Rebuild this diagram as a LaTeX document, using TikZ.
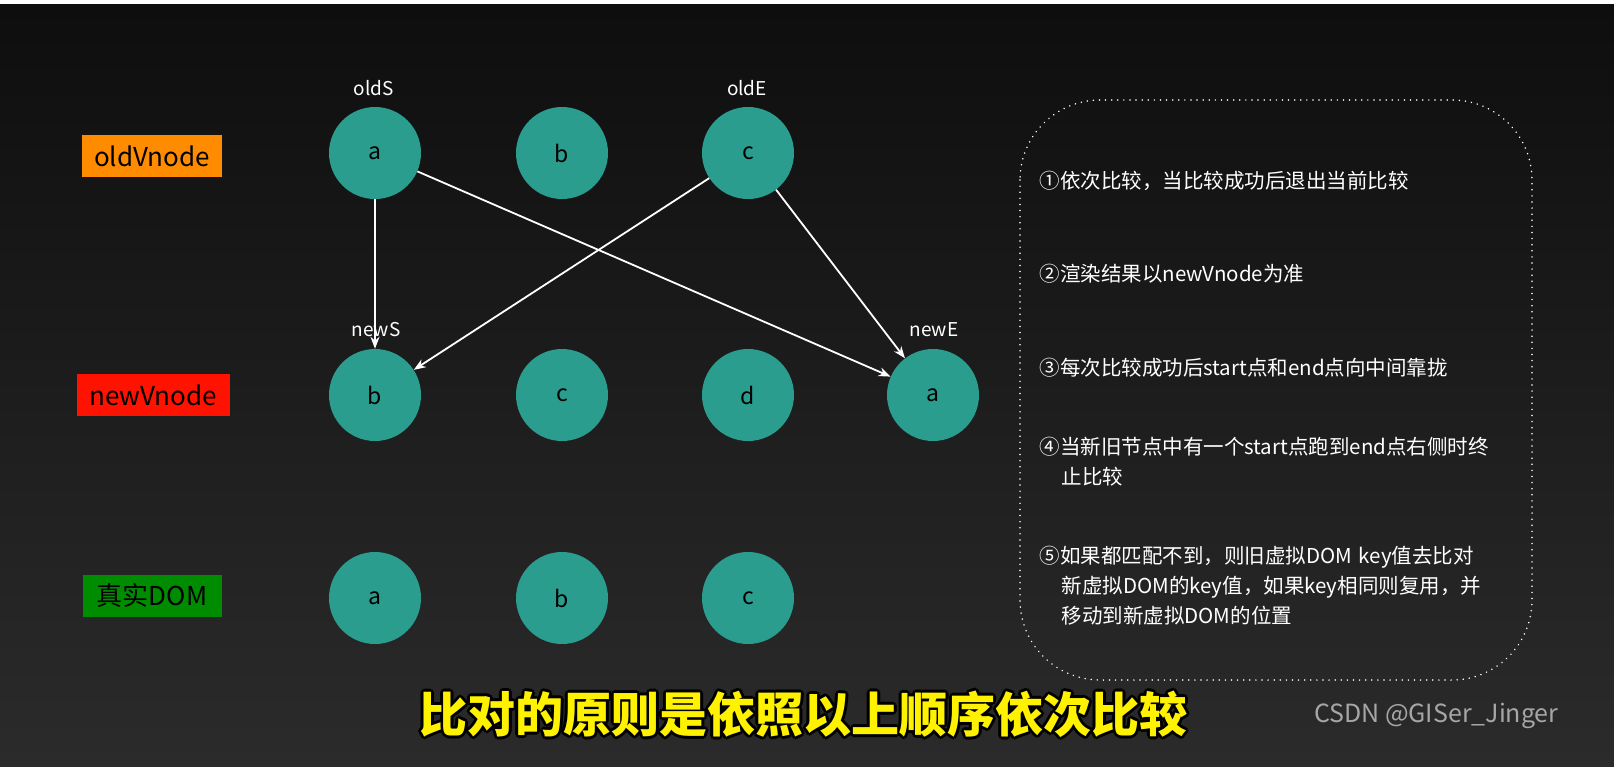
\documentclass[tikz,border=0pt]{standalone}
\usepackage{fontspec}
\setmainfont{Noto Sans CJK SC}
\usetikzlibrary{arrows.meta}
\definecolor{teal1}{HTML}{2A9D8F}
\definecolor{bgtop}{HTML}{0E0E0E}
\definecolor{bgbot}{HTML}{2B2B2B}
\tikzset{
  vn/.style={circle,fill=teal1,minimum size=92pt,inner sep=0,text=black,font=\fontsize{23}{25}\selectfont},
  lab/.style={text=white,font=\fontsize{19}{21}\selectfont},
  tag/.style={minimum height=42pt,inner sep=4pt,text=black,font=\fontsize{26}{28}\selectfont},
  con/.style={white,line width=1.8pt,-{Stealth[length=12pt,width=9pt]}},
  rule/.style={text=white,anchor=north west,align=left,text width=490pt,font=\fontsize{20.5}{30}\selectfont},
  subt/.style={font=\fontsize{48}{52}\selectfont\bfseries,text=black}
}
\begin{document}
\begin{tikzpicture}[x=1pt,y=-1pt]
\useasboundingbox (0,0) rectangle (1614,766);
\fill[white] (0,0) rectangle (1614,4);
\shade[top color=bgtop,bottom color=bgbot] (0,4) rectangle (1614,766);
% labels
\node[tag,fill=orange!90!yellow,minimum width=140pt] (ov) at (152,156) {oldVnode};
\node[tag,fill=red!85!orange,minimum width=153pt] (nv) at (153,395) {newVnode};
\node[tag,fill=green!55!black,minimum width=139pt] (rd) at (152,596) {真实DOM};
% nodes
\node[vn] (o1) at (375,153) {a};
\node[vn] (o2) at (562,153) {b};
\node[vn] (o3) at (748,153) {c};
\node[vn] (n1) at (375,395) {b};
\node[vn] (n2) at (562,395) {c};
\node[vn] (n3) at (748,395) {d};
\node[vn] (n4) at (933,395) {a};
\node[vn] (r1) at (375,598) {a};
\node[vn] (r2) at (562,598) {b};
\node[vn] (r3) at (748,598) {c};
\node[lab] (ls) at (374,88) {oldS};
\node[lab] (le) at (747,88) {oldE};
\node[lab] (ns) at (376,330) {newS};
\node[lab] (ne) at (934,330) {newE};
% connectors
\draw[con] (o1) -- (n1);
\draw[con] (o1) -- (n4);
\draw[con] (o3) -- (n1);
\draw[con] (o3) -- (n4);
% rules box
\draw[white,line width=1.6pt,dash pattern=on 0.1pt off 6pt,line cap=round,rounded corners=80pt] (1020,100) rectangle (1532,680);
\node[rule] (t1) at (1036,168) {①依次比较，当比较成功后退出当前比较};
\node[rule] (t2) at (1036,261) {②渲染结果以newVnode为准};
\node[rule] (t3) at (1036,355) {③每次比较成功后start点和end点向中间靠拢};
\node[rule] (t4) at (1036,434) {④当新旧节点中有一个start点跑到end点右侧时终\\\hspace*{22pt}止比较};
\node[rule] (t5) at (1036,543) {⑤如果都匹配不到，则旧虚拟DOM key值去比对\\\hspace*{22pt}新虚拟DOM的key值，如果key相同则复用，并\\\hspace*{22pt}移动到新虚拟DOM的位置};
% subtitle with outline
\foreach \dx/\dy [count=\i] in {-3/0,3/0,0/-3,0/3,-2/-2,2/2,-2/2,2/-2}
  \node[subt] (so\i) at (803+\dx,714+\dy) {比对的原则是依照以上顺序依次比较};
\node[subt,text=yellow] (sub) at (803,714) {比对的原则是依照以上顺序依次比较};
\node[font=\fontsize{25}{28}\selectfont,text=gray!70,anchor=east] (wm) at (1562,716) {CSDN @GISer\_Jinger};
\end{tikzpicture}
\end{document}
